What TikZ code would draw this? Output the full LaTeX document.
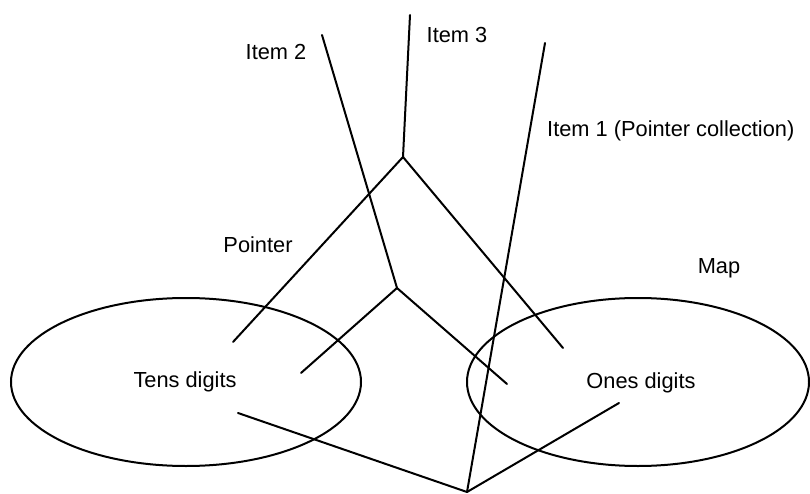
\documentclass[tikz,border=0pt]{standalone}
\usepackage{fontspec}
\setmainfont{Liberation Sans}
\usetikzlibrary{shapes.geometric}

\begin{document}
\begin{tikzpicture}[x=1pt, y=-1pt, every node/.style={font=\fontsize{21.8}{26}\selectfont}, map/.style={draw, ellipse, line width=2pt, inner sep=0pt}, ptr/.style={line width=2pt, line cap=round, line join=round}, lbl/.style={anchor=base, inner sep=0pt}]
  \useasboundingbox (0,0) rectangle (810,494);
  % the two maps
  \node[map, minimum width=350, minimum height=168] (tens) at (186,382) {};
  \node[map, minimum width=342, minimum height=168] (ones) at (638,382) {};
  \node[lbl] (tenstext) at (185,387) {Tens digits};
  \node[lbl] (onestext) at (641,388) {Ones digits};
  % item ends and forks
  \coordinate (item1) at (545,43); \coordinate (fork1) at (467,492);
  \coordinate (item2) at (322,35); \coordinate (fork2) at (397,288);
  \coordinate (item3) at (410,15); \coordinate (fork3) at (403,157);
  \coordinate (t1) at (238,413); \coordinate (o1) at (619,403);
  \coordinate (t2) at (301,373); \coordinate (o2) at (507,384);
  \coordinate (t3) at (233,342); \coordinate (o3) at (563,348);
  % pointers
  \draw[ptr] (item1) -- (fork1); \draw[ptr] (t1) -- (fork1) -- (o1);
  \draw[ptr] (item2) -- (fork2); \draw[ptr] (t2) -- (fork2) -- (o2);
  \draw[ptr] (item3) -- (fork3); \draw[ptr] (t3) -- (fork3) -- (o3);
  % labels
  \node[lbl] (item2text) at (276,60) {Item 2};
  \node[lbl] (item3text) at (457,43) {Item 3};
  \node[lbl, anchor=base west] (item1text) at (547,137) {Item 1 (Pointer collection)};
  \node[lbl] (pointertext) at (258,252) {Pointer};
  \node[lbl] (maptext) at (719,273) {Map};
\end{tikzpicture}
\end{document}
